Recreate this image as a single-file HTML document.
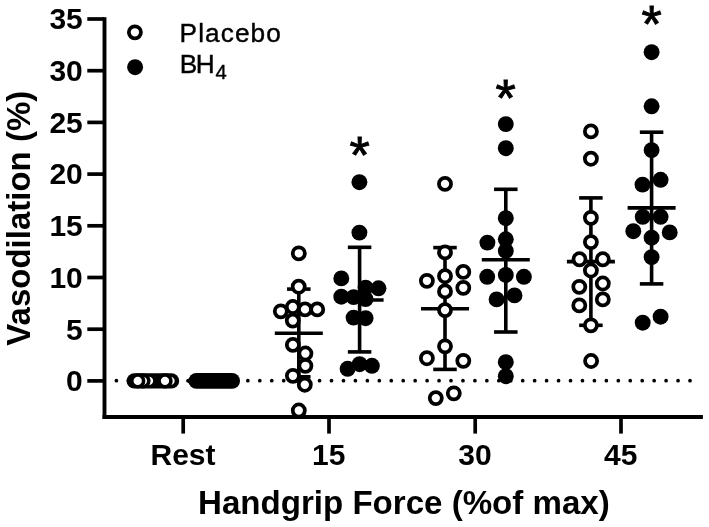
<!DOCTYPE html>
<html><head><meta charset="utf-8"><title>Vasodilation vs Handgrip Force</title>
<style>html,body{margin:0;padding:0;background:#fff}svg{display:block;will-change:transform}</style></head>
<body>
<svg width="709" height="527" viewBox="0 0 709 527">
<rect width="709" height="527" fill="#fff"/>
<g fill="#000">
<circle cx="116.40" cy="380.7" r="1.85"/>
<circle cx="128.35" cy="380.7" r="1.85"/>
<circle cx="140.30" cy="380.7" r="1.85"/>
<circle cx="152.25" cy="380.7" r="1.85"/>
<circle cx="164.20" cy="380.7" r="1.85"/>
<circle cx="176.15" cy="380.7" r="1.85"/>
<circle cx="188.10" cy="380.7" r="1.85"/>
<circle cx="200.05" cy="380.7" r="1.85"/>
<circle cx="212.00" cy="380.7" r="1.85"/>
<circle cx="223.95" cy="380.7" r="1.85"/>
<circle cx="235.90" cy="380.7" r="1.85"/>
<circle cx="247.85" cy="380.7" r="1.85"/>
<circle cx="259.80" cy="380.7" r="1.85"/>
<circle cx="271.75" cy="380.7" r="1.85"/>
<circle cx="283.70" cy="380.7" r="1.85"/>
<circle cx="295.65" cy="380.7" r="1.85"/>
<circle cx="307.60" cy="380.7" r="1.85"/>
<circle cx="319.55" cy="380.7" r="1.85"/>
<circle cx="331.50" cy="380.7" r="1.85"/>
<circle cx="343.45" cy="380.7" r="1.85"/>
<circle cx="355.40" cy="380.7" r="1.85"/>
<circle cx="367.35" cy="380.7" r="1.85"/>
<circle cx="379.30" cy="380.7" r="1.85"/>
<circle cx="391.25" cy="380.7" r="1.85"/>
<circle cx="403.20" cy="380.7" r="1.85"/>
<circle cx="415.15" cy="380.7" r="1.85"/>
<circle cx="427.10" cy="380.7" r="1.85"/>
<circle cx="439.05" cy="380.7" r="1.85"/>
<circle cx="451.00" cy="380.7" r="1.85"/>
<circle cx="462.95" cy="380.7" r="1.85"/>
<circle cx="474.90" cy="380.7" r="1.85"/>
<circle cx="486.85" cy="380.7" r="1.85"/>
<circle cx="498.80" cy="380.7" r="1.85"/>
<circle cx="510.75" cy="380.7" r="1.85"/>
<circle cx="522.70" cy="380.7" r="1.85"/>
<circle cx="534.65" cy="380.7" r="1.85"/>
<circle cx="546.60" cy="380.7" r="1.85"/>
<circle cx="558.55" cy="380.7" r="1.85"/>
<circle cx="570.50" cy="380.7" r="1.85"/>
<circle cx="582.45" cy="380.7" r="1.85"/>
<circle cx="594.40" cy="380.7" r="1.85"/>
<circle cx="606.35" cy="380.7" r="1.85"/>
<circle cx="618.30" cy="380.7" r="1.85"/>
<circle cx="630.25" cy="380.7" r="1.85"/>
<circle cx="642.20" cy="380.7" r="1.85"/>
<circle cx="654.15" cy="380.7" r="1.85"/>
<circle cx="666.10" cy="380.7" r="1.85"/>
<circle cx="678.05" cy="380.7" r="1.85"/>
<circle cx="690.00" cy="380.7" r="1.85"/>
</g>
<g stroke="#000" stroke-width="3.9" fill="none" stroke-linecap="butt">
<path d="M104.5 17.15 V418.95"/>
<path d="M102.55 417.0 H702.9"/>
<path d="M87.3 380.90 H104.5" stroke-width="3.7"/>
<path d="M87.3 329.20 H104.5" stroke-width="3.7"/>
<path d="M87.3 277.50 H104.5" stroke-width="3.7"/>
<path d="M87.3 225.80 H104.5" stroke-width="3.7"/>
<path d="M87.3 174.10 H104.5" stroke-width="3.7"/>
<path d="M87.3 122.40 H104.5" stroke-width="3.7"/>
<path d="M87.3 70.70 H104.5" stroke-width="3.7"/>
<path d="M87.3 19.00 H104.5" stroke-width="3.7"/>
<path d="M183.2 417.0 V433.6" stroke-width="3.7"/>
<path d="M329.0 417.0 V433.6" stroke-width="3.7"/>
<path d="M475.2 417.0 V433.6" stroke-width="3.7"/>
<path d="M621.0 417.0 V433.6" stroke-width="3.7"/>
</g>
<g font-family='"Liberation Sans", Arial, Helvetica, sans-serif' font-weight="700" font-size="30" fill="#000">
<text x="82.8" y="391.20" text-anchor="end">0</text>
<text x="82.8" y="339.50" text-anchor="end">5</text>
<text x="82.8" y="287.80" text-anchor="end">10</text>
<text x="82.8" y="236.10" text-anchor="end">15</text>
<text x="82.8" y="184.40" text-anchor="end">20</text>
<text x="82.8" y="132.70" text-anchor="end">25</text>
<text x="82.8" y="81.00" text-anchor="end">30</text>
<text x="82.8" y="29.30" text-anchor="end">35</text>
<text x="183.00" y="465.3" text-anchor="middle">Rest</text>
<text x="328.80" y="465.3" text-anchor="middle">15</text>
<text x="475.00" y="465.3" text-anchor="middle">30</text>
<text x="620.80" y="465.3" text-anchor="middle">45</text>
</g>
<g font-family='"Liberation Sans", Arial, Helvetica, sans-serif' font-weight="700" font-size="33.1" fill="#000">
<text x="403.9" y="513.6" text-anchor="middle">Handgrip Force (%of max)</text>
<text transform="translate(29.7 218.2) rotate(-90)" font-size="33" text-anchor="middle">Vasodilation (%)</text>
</g>
<g font-family='"Liberation Sans", Arial, Helvetica, sans-serif' font-size="26.2" fill="#000" stroke="#000" stroke-width="0.4">
<text x="179.6" y="42.1" letter-spacing="1.1">Placebo</text>
<text x="179.7" y="73.2" letter-spacing="-1.3">BH</text>
<text x="215.4" y="79.4" font-size="20.2">4</text>
</g>
<g font-family='"Liberation Sans", Arial, Helvetica, sans-serif' font-size="52" fill="#000" stroke="#000" stroke-width="0.9" stroke-linejoin="miter" text-anchor="middle">
<text x="359.5" y="172.9">*</text>
<text x="505.6" y="115.6">*</text>
<text x="651.5" y="41.9">*</text>
</g>
<g stroke="#000" stroke-width="3.75" fill="#fff">
<circle cx="134.9" cy="32.3" r="6.05"/>
</g>
<g fill="#000">
<circle cx="135.1" cy="67.2" r="7.95"/>
</g>
<rect x="126.6" y="373.2" width="52.6" height="15.4" rx="7.7" fill="#000"/>
<circle cx="149.0" cy="380.9" r="4.15" fill="#fff"/>
<circle cx="142.9" cy="380.9" r="7.7" fill="#000"/>
<circle cx="142.9" cy="380.9" r="4.15" fill="#fff"/>
<circle cx="137.7" cy="380.9" r="7.7" fill="#000"/>
<circle cx="137.7" cy="380.9" r="4.15" fill="#fff"/>
<circle cx="170.5" cy="380.9" r="4.15" fill="#fff"/>
<circle cx="165.0" cy="380.9" r="7.7" fill="#000"/>
<circle cx="165.0" cy="380.9" r="4.15" fill="#fff"/>
<rect x="188.5" y="373.05" width="51.5" height="15.7" rx="7.85" fill="#000"/>
<path d="M186 380.9 L190 377.5 V384.3 Z" fill="#000"/>
<g stroke="#000" stroke-width="3.6" fill="none">
<path d="M298.8 289.1 V376.8"/>
<path d="M287.05 289.1 H310.55"/>
<path d="M287.05 376.8 H310.55"/>
<path d="M274.80 333.3 H322.80"/>
</g>
<g stroke="#000" stroke-width="3.75" fill="#fff">
<circle cx="298.8" cy="253.3" r="6.05"/>
<circle cx="298.7" cy="286.7" r="6.05"/>
<circle cx="280.8" cy="311.3" r="6.05"/>
<circle cx="292.8" cy="307.0" r="6.05"/>
<circle cx="305.0" cy="309.4" r="6.05"/>
<circle cx="317.2" cy="309.4" r="6.05"/>
<circle cx="292.8" cy="320.6" r="6.05"/>
<circle cx="292.9" cy="344.9" r="6.05"/>
<circle cx="305.4" cy="353.5" r="6.05"/>
<circle cx="305.4" cy="365.8" r="6.05"/>
<circle cx="292.9" cy="375.8" r="6.05"/>
<circle cx="304.8" cy="384.7" r="6.05"/>
<circle cx="298.8" cy="410.5" r="6.05"/>
</g>
<g stroke="#000" stroke-width="3.6" fill="none">
<path d="M359.6 247.3 V351.9"/>
<path d="M347.85 247.3 H371.35"/>
<path d="M347.85 351.9 H371.35"/>
<path d="M335.60 300.0 H383.60"/>
</g>
<g fill="#000">
<circle cx="359.4" cy="182.2" r="7.95"/>
<circle cx="359.4" cy="232.6" r="7.95"/>
<circle cx="341.3" cy="278.4" r="7.95"/>
<circle cx="365.6" cy="287.7" r="7.95"/>
<circle cx="378.5" cy="288.3" r="7.95"/>
<circle cx="341.3" cy="296.7" r="7.95"/>
<circle cx="353.6" cy="297.1" r="7.95"/>
<circle cx="365.6" cy="299.1" r="7.95"/>
<circle cx="353.6" cy="317.6" r="7.95"/>
<circle cx="365.6" cy="318.2" r="7.95"/>
<circle cx="347.6" cy="368.8" r="7.95"/>
<circle cx="359.6" cy="364.2" r="7.95"/>
<circle cx="371.9" cy="365.8" r="7.95"/>
</g>
<g stroke="#000" stroke-width="3.6" fill="none">
<path d="M445.0 247.6 V369.4"/>
<path d="M433.25 247.6 H456.75"/>
<path d="M433.25 369.4 H456.75"/>
<path d="M421.00 308.7 H469.00"/>
</g>
<g stroke="#000" stroke-width="3.75" fill="#fff">
<circle cx="445" cy="183.9" r="6.05"/>
<circle cx="445" cy="252.3" r="6.05"/>
<circle cx="463.3" cy="271.9" r="6.05"/>
<circle cx="445" cy="276.2" r="6.05"/>
<circle cx="426.9" cy="280.8" r="6.05"/>
<circle cx="463.3" cy="287.8" r="6.05"/>
<circle cx="445" cy="291.4" r="6.05"/>
<circle cx="445" cy="310.1" r="6.05"/>
<circle cx="445" cy="346.3" r="6.05"/>
<circle cx="426.9" cy="358.2" r="6.05"/>
<circle cx="463.3" cy="360.8" r="6.05"/>
<circle cx="453.8" cy="393.3" r="6.05"/>
<circle cx="435.8" cy="398.1" r="6.05"/>
</g>
<g stroke="#000" stroke-width="3.6" fill="none">
<path d="M505.8 189.3 V332.0"/>
<path d="M494.05 189.3 H517.55"/>
<path d="M494.05 332.0 H517.55"/>
<path d="M481.80 259.8 H529.80"/>
</g>
<g fill="#000">
<circle cx="505.8" cy="124.1" r="7.95"/>
<circle cx="505.8" cy="148.2" r="7.95"/>
<circle cx="505.8" cy="218.2" r="7.95"/>
<circle cx="505.8" cy="239.3" r="7.95"/>
<circle cx="487.4" cy="242.6" r="7.95"/>
<circle cx="505.8" cy="250.8" r="7.95"/>
<circle cx="487.2" cy="276.8" r="7.95"/>
<circle cx="505.8" cy="274.9" r="7.95"/>
<circle cx="523.9" cy="276.8" r="7.95"/>
<circle cx="496.6" cy="299.4" r="7.95"/>
<circle cx="514.5" cy="295.4" r="7.95"/>
<circle cx="505.8" cy="362.2" r="7.95"/>
<circle cx="505.8" cy="376.2" r="7.95"/>
</g>
<g stroke="#000" stroke-width="3.6" fill="none">
<path d="M590.9 197.9 V325.3"/>
<path d="M579.15 197.9 H602.65"/>
<path d="M579.15 325.3 H602.65"/>
<path d="M566.90 261.6 H614.90"/>
</g>
<g stroke="#000" stroke-width="3.75" fill="#fff">
<circle cx="590.9" cy="131.4" r="6.05"/>
<circle cx="590.9" cy="158.7" r="6.05"/>
<circle cx="590.9" cy="217.8" r="6.05"/>
<circle cx="590.9" cy="242.1" r="6.05"/>
<circle cx="579.5" cy="259.3" r="6.05"/>
<circle cx="602.8" cy="259.3" r="6.05"/>
<circle cx="590.9" cy="270.5" r="6.05"/>
<circle cx="602.8" cy="283.5" r="6.05"/>
<circle cx="579.3" cy="286.8" r="6.05"/>
<circle cx="602.8" cy="299.4" r="6.05"/>
<circle cx="579.3" cy="305.4" r="6.05"/>
<circle cx="590.9" cy="325.3" r="6.05"/>
<circle cx="591.1" cy="361.0" r="6.05"/>
</g>
<g stroke="#000" stroke-width="3.6" fill="none">
<path d="M651.6 132.2 V283.9"/>
<path d="M639.85 132.2 H663.35"/>
<path d="M639.85 283.9 H663.35"/>
<path d="M627.60 207.9 H675.60"/>
</g>
<g fill="#000">
<circle cx="651.6" cy="52.2" r="7.95"/>
<circle cx="651.6" cy="106.3" r="7.95"/>
<circle cx="651.6" cy="150.1" r="7.95"/>
<circle cx="660.6" cy="179.8" r="7.95"/>
<circle cx="642.5" cy="184.6" r="7.95"/>
<circle cx="642.7" cy="216.8" r="7.95"/>
<circle cx="660.6" cy="216.8" r="7.95"/>
<circle cx="633.3" cy="231.2" r="7.95"/>
<circle cx="669.7" cy="232.4" r="7.95"/>
<circle cx="651.6" cy="237.7" r="7.95"/>
<circle cx="651.6" cy="257.1" r="7.95"/>
<circle cx="660.6" cy="316.7" r="7.95"/>
<circle cx="642.7" cy="322.7" r="7.95"/>
</g>
</svg>
</body></html>
